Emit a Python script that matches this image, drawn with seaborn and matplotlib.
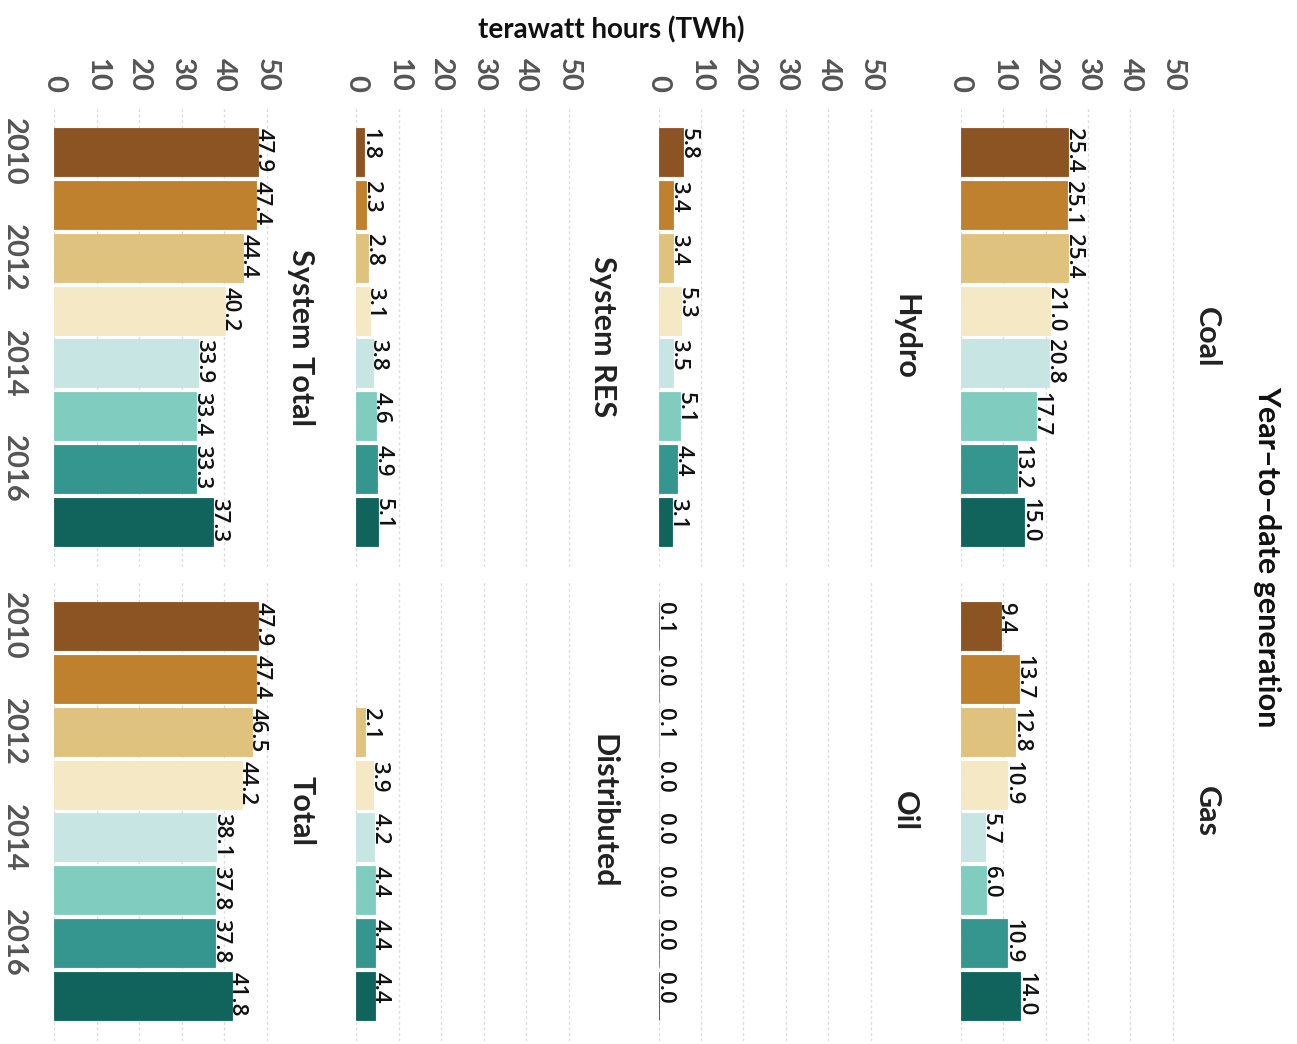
"""
Year-to-date generation - faceted bar chart, drawn rotated (bars run left to right)
"""

import matplotlib
matplotlib.use('Agg')
import matplotlib.pyplot as plt
import seaborn as sns
import numpy as np
import pandas as pd

# Data
years = ['2010', '2011', '2012', '2013', '2014', '2015', '2016', '2017']
coal = [25.4, 25.1, 25.4, 21.0, 20.8, 17.7, 13.2, 15.0]
gas = [9.4, 13.7, 12.8, 10.9, 5.7, 6.0, 10.9, 14.0]
hydro = [5.8, 3.4, 3.4, 5.3, 3.5, 5.1, 4.4, 3.1]
oil = [0.1, 0.0, 0.1, 0.0, 0.0, 0.0, 0.0, 0.0]
system_res = [1.8, 2.3, 2.8, 3.1, 3.8, 4.6, 4.9, 5.1]
distributed = [np.nan, np.nan, 2.1, 3.9, 4.2, 4.4, 4.4, 4.4]
system_total = [47.9, 47.4, 44.4, 40.2, 33.9, 33.4, 33.3, 37.3]
total = [47.9, 47.4, 46.5, 44.2, 38.1, 37.8, 37.8, 41.8]

value_ticks = [0, 10, 20, 30, 40, 50]
year_ticks = ['2010', '2012', '2014', '2016']
year_colors = ['#8c5323', '#bf812d', '#dfc27d', '#f5e8c4',
               '#c7e6e3', '#80cdc0', '#35968f', '#10645c']

# panel grid: top row / bottom row, columns left to right
grid = [
    [('System Total', system_total), ('System RES', system_res), ('Hydro', hydro), ('Coal', coal)],
    [('Total', total), ('Distributed', distributed), ('Oil', oil), ('Gas', gas)],
]

sns.set_style("white")
plt.rcParams['font.family'] = ['Lato', 'DejaVu Sans']

W, H = 1297, 1044
fig = plt.figure(figsize=(W / 100, H / 100), dpi=100)

col_left = [54.3, 356.4, 658.5, 960.6]
row_top = [107, 581]
ax_w, ax_h = 233.6, 460
palette = dict(zip(years, year_colors))

for r, row in enumerate(grid):
    for c, (name, vals) in enumerate(row):
        ax = fig.add_axes([col_left[c] / W, 1 - (row_top[r] + ax_h) / H, ax_w / W, ax_h / H])
        df = pd.DataFrame({'year': years, 'value': vals}).dropna()
        sns.barplot(data=df, x='value', y='year', hue='year', order=years,
                    hue_order=years, palette=palette, orient='h', width=0.91,
                    legend=False, saturation=1, ax=ax)
        # thin outline so that zero-height bars still show as a line
        for p in ax.patches:
            p.set_edgecolor(p.get_facecolor())
            p.set_linewidth(0.6)
        ax.set_xlim(0, 55)
        ax.set_ylim(7.85, -0.85)
        ax.set_xlabel('')
        ax.set_ylabel('')
        ax.set_axisbelow(True)
        ax.grid(axis='x', color='#dcdcdc', linestyle=(0, (2, 2)), linewidth=1)
        ax.grid(axis='y', visible=False)
        sns.despine(ax=ax, left=True, bottom=True)

        ax.set_xticks(value_ticks)
        ax.xaxis.tick_top()
        if r == 0:
            ax.set_xticklabels([str(t) for t in value_ticks], rotation=-90,
                               fontsize=21, color='#555555', fontweight='bold')
        else:
            ax.set_xticklabels([])
        ax.tick_params(axis='x', length=0, pad=11)

        ax.set_yticks([years.index(y) for y in year_ticks])
        if c == 0:
            ax.set_yticklabels(year_ticks, rotation=-90, fontsize=21,
                               color='#555555', fontweight='bold', va='center')
        else:
            ax.set_yticklabels([])
        ax.tick_params(axis='y', length=0, pad=20)

        # value labels at the bar ends
        for i, v in enumerate(vals):
            if np.isnan(v):
                continue
            ax.text(v, i - 0.455, f'{v:.1f}', rotation=-90, rotation_mode='anchor',
                    ha='left', va='baseline', fontsize=16, color='#111111',
                    family=['Open Sans', 'DejaVu Sans'], fontweight='semibold')

        # panel title
        ax.annotate(name, xy=(1.0, 0.5), xycoords='axes fraction', xytext=(3, 0),
                    textcoords='offset points', rotation=-90, rotation_mode='anchor',
                    ha='center', va='baseline', fontsize=22, color='#222222',
                    fontweight='bold')

fig.text(1258 / W, 1 - 557 / H, 'Year\u2013to\u2013date generation', rotation=-90,
         rotation_mode='anchor', ha='center', va='baseline', fontsize=22,
         color='#111111', fontweight='bold')
fig.text(611 / W, 1 - 30 / H, 'terawatt hours (TWh)', ha='center', va='center',
         fontsize=20, color='#111111', fontweight='bold')

plt.savefig('out.png', dpi=100)
plt.close()
